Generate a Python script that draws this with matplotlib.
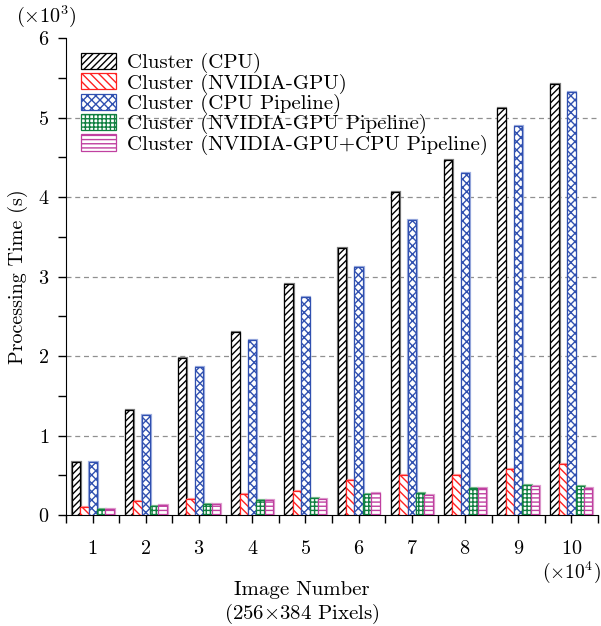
import matplotlib
matplotlib.use('Agg')
import matplotlib.pyplot as plt
import numpy as np
from matplotlib.ticker import MultipleLocator

plt.rcParams['font.family'] = ['cmr10', 'DejaVu Serif']
plt.rcParams['mathtext.fontset'] = 'cm'
plt.rcParams['axes.formatter.use_mathtext'] = True
plt.rcParams['hatch.linewidth'] = 1.0

# Veriler (x1000 s)
goruntu = [1, 2, 3, 4, 5, 6, 7, 8, 9, 10]
cpu = [0.663, 1.32, 1.98, 2.31, 2.905, 3.36, 4.06, 4.47, 5.12, 5.43]
gpu = [0.097, 0.176, 0.205, 0.268, 0.30, 0.44, 0.50, 0.503, 0.575, 0.65]
cpu_pipe = [0.675, 1.258, 1.86, 2.20, 2.74, 3.116, 3.71, 4.30, 4.90, 5.325]
gpu_pipe = [0.072, 0.113, 0.147, 0.189, 0.218, 0.268, 0.28, 0.344, 0.382, 0.373]
hibrit_pipe = [0.084, 0.122, 0.142, 0.185, 0.205, 0.285, 0.26, 0.336, 0.365, 0.348]

etiketler = ['Cluster (CPU)', 'Cluster (NVIDIA-GPU)', 'Cluster (CPU Pipeline)',
             'Cluster (NVIDIA-GPU Pipeline)', 'Cluster (NVIDIA-GPU+CPU Pipeline)']
seriler = [cpu, gpu, cpu_pipe, gpu_pipe, hibrit_pipe]
renkler = ['#000000', '#ff2020', '#3050b0', '#108040', '#c040a0']
golge = ['#808080', '#ffa0a0', '#a0b0e0', '#80c090', '#e0a0d0']
taramalar = ['/////', '\\\\\\\\', 'xxxx', '++++', '----']

fig = plt.figure(figsize=(6.01, 6.26), dpi=100)
ax = fig.add_axes([0.11, 0.177, 0.885, 0.762])

x = np.array(goruntu, dtype=float)
w = 0.158
for i, (s, c, g, h, lab) in enumerate(zip(seriler, renkler, golge, taramalar, etiketler)):
    pos = x + (i - 2) * w
    # golge (sag kenar)
    ax.bar(pos + 0.015, s, w, color='none', edgecolor=g, linewidth=1.6, zorder=2)
    ax.bar(pos, s, w, color='white', edgecolor=c, hatch=h, linewidth=0.9,
           label=lab, zorder=3)

ax.set_xlim(0.5, 10.5)
ax.set_ylim(0, 6)
ax.set_xticks(goruntu)
ax.xaxis.set_minor_locator(MultipleLocator(0.5))
ax.yaxis.set_major_locator(MultipleLocator(1))
ax.yaxis.set_minor_locator(MultipleLocator(0.5))
ax.tick_params(axis='both', which='major', direction='out', length=6, width=1, labelsize=14.5)
ax.tick_params(axis='both', which='minor', direction='out', length=6, width=1)
ax.tick_params(axis='x', pad=12)
ax.tick_params(axis='y', pad=6)

for yv in [1, 2, 3, 4, 5]:
    ax.axhline(yv, color='#909090', linestyle=(0, (4, 3)), linewidth=0.9, zorder=0)

ax.spines['top'].set_visible(False)
ax.spines['right'].set_visible(False)

ax.set_ylabel('Processing Time (s)', fontsize=14.5)
ax.yaxis.set_label_coords(-0.072, 0.5)

# x ekseni basligi (iki satir)
fig.text(0.502, 0.058, 'Image Number', fontsize=15, ha='center', va='center')
fig.text(0.502, 0.019, '(256$\\times$384 Pixels)', fontsize=15, ha='center', va='center')

fig.text(0.077, 0.974, r'$(\times10^3)$', fontsize=14.5, ha='center', va='center')
fig.text(0.95, 0.086, r'$(\times10^4)$', fontsize=14, ha='center', va='center')

ax.legend(loc='upper left', bbox_to_anchor=(0.0, 1.0), frameon=False, fontsize=15,
          handlelength=1.7, handleheight=0.82, labelspacing=0.0, handletextpad=0.5,
          borderaxespad=0.3)

fig.savefig('out.png', dpi=100)
